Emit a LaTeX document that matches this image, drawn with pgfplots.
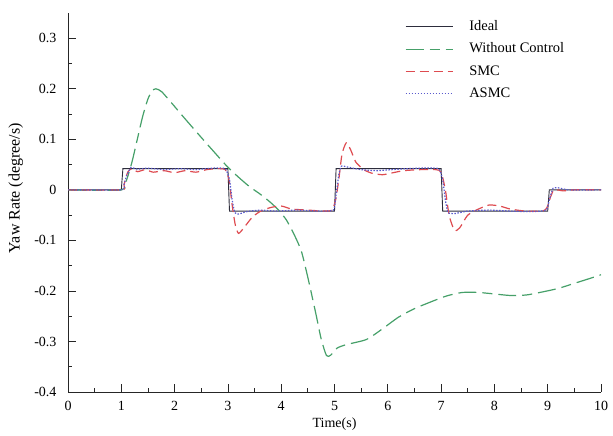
\documentclass[border=0pt]{standalone}
\usepackage{fontspec}
\setmainfont{Liberation Serif}
\usepackage{pgfplots}
\pgfplotsset{compat=1.18}

\definecolor{idealc}{RGB}{45,45,60}
\definecolor{greenc}{RGB}{70,160,105}
\definecolor{redc}{RGB}{222,75,80}
\definecolor{bluec}{RGB}{90,90,205}

\begin{document}
\begin{tikzpicture}
\path[use as bounding box] (-68bp,-44bp) rectangle (545bp,392bp);
\begin{axis}[
    scale only axis,
    width=533bp, height=379bp,
    xmin=0, xmax=10,
    ymin=-0.4, ymax=0.35,
    axis x line=bottom, axis y line=left,
    axis line style={-, black!85, line width=0.9bp},
    tick align=inside,
    major tick length=8bp, minor tick length=4bp,
    tick style={black!85, line width=0.8bp},
    xtick={0,1,2,3,4,5,6,7,8,9,10},
    minor xtick={0.5,1.5,2.5,3.5,4.5,5.5,6.5,7.5,8.5,9.5},
    ytick={-0.4,-0.3,-0.2,-0.1,0,0.1,0.2,0.3},
    yticklabels={-0.4,-0.3,-0.2,-0.1,0,0.1,0.2,0.3},
    minor ytick={-0.35,-0.25,-0.15,-0.05,0.05,0.15,0.25},
    xticklabels={0,1,2,3,4,5,6,7,8,9,10},
    ticklabel style={font=\fontsize{14bp}{16bp}\selectfont},
    yticklabel style={xshift=-8bp},
    xticklabel style={yshift=-6bp},
    xlabel={Time(s)},
    ylabel={Yaw Rate (degree/s)},
    xlabel style={font=\fontsize{14bp}{16bp}\selectfont, at={(axis description cs:0.5,0)}, anchor=center, yshift=-32bp},
    ylabel style={font=\fontsize{16bp}{18bp}\selectfont, at={(axis description cs:-0.098,0.538)}, anchor=center},
    legend style={draw=none, fill=none, at={(rel axis cs:0.632,0.982)}, anchor=north west,
        font=\fontsize{14.5bp}{16bp}\selectfont, row sep=8.5bp, column sep=16bp, inner sep=0pt,
        nodes={inner sep=0pt, text height=10.5bp, text depth=3.3bp}},
    legend cell align=left,
    legend image code/.code={\draw[#1] (0bp,0bp) -- (47bp,0bp);},
]
\addplot[idealc, line width=0.9bp] coordinates {
(0,0) (1,0) (1.03,0.042) (3,0.042) (3.03,-0.042) (5,-0.042) (5.03,0.042)
(7,0.042) (7.03,-0.042) (9,-0.042) (9.03,0) (10,0)
};
\addplot[greenc, line width=1.2bp, dash pattern=on 18bp off 6bp on 10bp off 6bp, smooth, tension=0.4] coordinates {
(0,0) (1,0) (1.1,0.02) (1.2,0.055) (1.3,0.1) (1.4,0.145) (1.5,0.18) (1.58,0.196)
(1.65,0.2) (1.76,0.194) (2.0,0.165) (2.16,0.145) (2.54,0.099) (2.98,0.047)
(3.2,0.025) (3.41,0.006) (3.6,-0.008) (3.79,-0.024) (3.95,-0.04) (4.1,-0.06)
(4.25,-0.09) (4.38,-0.122) (4.51,-0.178) (4.65,-0.245) (4.75,-0.295) (4.85,-0.328)
(4.93,-0.327) (5.05,-0.313) (5.23,-0.306) (5.6,-0.296) (5.9,-0.275) (6.2,-0.252)
(6.5,-0.235) (6.8,-0.222) (7.1,-0.21) (7.4,-0.203) (7.7,-0.203) (8.0,-0.206)
(8.3,-0.209) (8.6,-0.208) (8.9,-0.202) (9.2,-0.195) (9.5,-0.185) (9.8,-0.175) (10,-0.168)
};
\addplot[redc, line width=1.2bp, dash pattern=on 9bp off 5bp, smooth, tension=0.4] coordinates {
(0,0) (1,0) (1.05,0.01) (1.12,0.035) (1.2,0.042) (1.3,0.036) (1.45,0.04) (1.6,0.035)
(1.8,0.038) (2.0,0.034) (2.2,0.038) (2.4,0.035) (2.6,0.04) (2.8,0.042) (2.95,0.04)
(3.02,0.02) (3.08,-0.03) (3.14,-0.07) (3.2,-0.086) (3.3,-0.075) (3.45,-0.055)
(3.6,-0.043) (3.8,-0.035) (4.0,-0.032) (4.2,-0.038) (4.5,-0.04) (4.8,-0.042)
(4.95,-0.04) (5.02,-0.02) (5.08,0.02) (5.14,0.07) (5.22,0.093) (5.3,0.08) (5.4,0.055)
(5.55,0.04) (5.7,0.033) (5.9,0.03) (6.1,0.034) (6.3,0.038) (6.6,0.04) (6.9,0.04)
(7.0,0.035) (7.08,0.0) (7.15,-0.05) (7.25,-0.08) (7.35,-0.075) (7.5,-0.05) (7.7,-0.038)
(7.9,-0.03) (8.1,-0.032) (8.3,-0.038) (8.6,-0.042) (8.95,-0.04) (9.05,-0.015)
(9.12,0.0) (9.3,-0.002) (9.5,0.0) (10,0.0)
};
\addplot[bluec, line width=1.2bp, dash pattern=on 1.5bp off 1.5bp, smooth, tension=0.3] coordinates {
(0,0) (1,0) (1.05,0.01) (1.1,0.028) (1.18,0.044) (1.3,0.041) (1.5,0.043) (1.8,0.04)
(2.1,0.042) (2.4,0.04) (2.7,0.043) (2.95,0.042) (3.03,0.02) (3.08,-0.02) (3.13,-0.045)
(3.2,-0.048) (3.35,-0.043) (3.6,-0.04) (3.9,-0.042) (4.3,-0.04) (4.7,-0.042)
(4.98,-0.04) (5.03,-0.01) (5.08,0.03) (5.13,0.047) (5.25,0.045) (5.5,0.04) (5.8,0.038)
(6.2,0.041) (6.6,0.043) (6.95,0.042) (7.03,0.02) (7.08,-0.02) (7.13,-0.045)
(7.25,-0.047) (7.5,-0.042) (7.9,-0.04) (8.3,-0.042) (8.7,-0.043) (8.97,-0.04)
(9.03,-0.02) (9.1,0.003) (9.2,0.004) (9.4,0.0) (10,0)
};
\legend{Ideal, Without Control, SMC, ASMC}
\end{axis}
\end{tikzpicture}
\end{document}
